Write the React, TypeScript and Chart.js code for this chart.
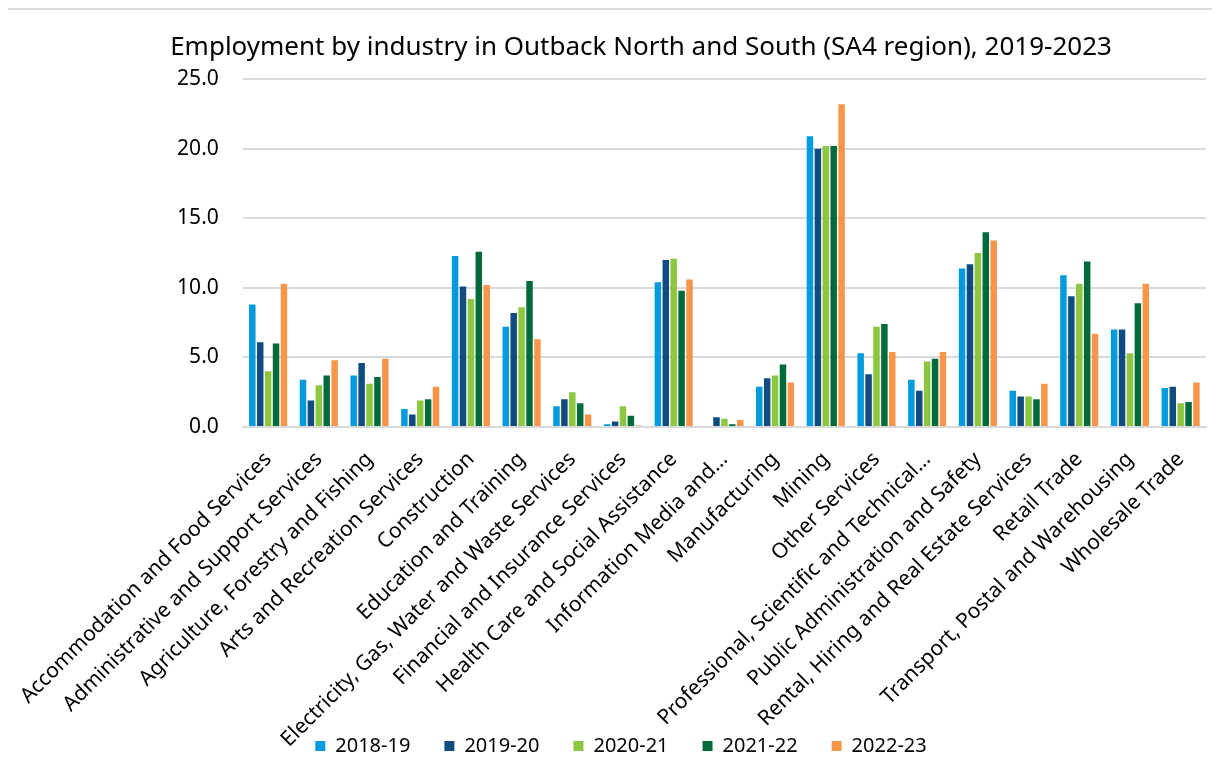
import React, { useEffect, useRef } from "react";
import { Chart, registerables } from "chart.js";

Chart.register(...registerables);

const categories = [
  "Accommodation and Food Services",
  "Administrative and Support Services",
  "Agriculture, Forestry and Fishing",
  "Arts and Recreation Services",
  "Construction",
  "Education and Training",
  "Electricity, Gas, Water and Waste Services",
  "Financial and Insurance Services",
  "Health Care and Social Assistance",
  "Information Media and…",
  "Manufacturing",
  "Mining",
  "Other Services",
  "Professional, Scientific and Technical…",
  "Public Administration and Safety",
  "Rental, Hiring and Real Estate Services",
  "Retail Trade",
  "Transport, Postal and Warehousing",
  "Wholesale Trade",
];

const seriesNames = ["2018-19", "2019-20", "2020-21", "2021-22", "2022-23"];
const seriesColors = ["#009ADE", "#0E4C82", "#8DC63F", "#006B3A", "#F7964A"];

const values2018_19 = [8.8, 3.4, 3.7, 1.3, 12.3, 7.2, 1.5, 0.2, 10.4, 0.0, 2.9, 20.9, 5.3, 3.4, 11.4, 2.6, 10.9, 7.0, 2.8];
const values2019_20 = [6.1, 1.9, 4.6, 0.9, 10.1, 8.2, 2.0, 0.4, 12.0, 0.7, 3.5, 20.0, 3.8, 2.6, 11.7, 2.2, 9.4, 7.0, 2.9];
const values2020_21 = [4.0, 3.0, 3.1, 1.9, 9.2, 8.6, 2.5, 1.5, 12.1, 0.6, 3.7, 20.2, 7.2, 4.7, 12.5, 2.2, 10.3, 5.3, 1.7];
const values2021_22 = [6.0, 3.7, 3.6, 2.0, 12.6, 10.5, 1.7, 0.8, 9.8, 0.2, 4.5, 20.2, 7.4, 4.9, 14.0, 2.0, 11.9, 8.9, 1.8];
const values2022_23 = [10.3, 4.8, 4.9, 2.9, 10.2, 6.3, 0.9, 0.1, 10.6, 0.5, 3.2, 23.2, 5.4, 5.4, 13.4, 3.1, 6.7, 10.3, 3.2];

const seriesValues = [values2018_19, values2019_20, values2020_21, values2021_22, values2022_23];

const FONT = "'Noto Sans', sans-serif";

const legendShift = {
  id: "legendShift",
  afterLayout(chart: any) {
    if (chart.legend) {
      chart.legend.left -= 20;
      chart.legend.right -= 20;
    }
  },
};

export default function App() {
  const canvasRef = useRef<HTMLCanvasElement | null>(null);

  useEffect(() => {
    if (!canvasRef.current) return;
    const chart = new Chart(canvasRef.current, {
      type: "bar",
      data: {
        labels: categories,
        datasets: seriesNames.map((name, i) => ({
          label: name,
          data: seriesValues[i],
          backgroundColor: seriesColors[i],
          borderWidth: 0,
          categoryPercentage: 0.78,
          barPercentage: 0.82,
        })),
      },
      plugins: [legendShift],
      options: {
        animation: false,
        responsive: false,
        maintainAspectRatio: false,
        layout: { padding: { left: 68, right: 12, top: 4, bottom: -4 } },
        plugins: {
          title: {
            display: true,
            text: "Employment by industry in Outback North and South (SA4 region), 2019-2023",
            color: "#000",
            font: { family: FONT, size: 26, weight: "normal" },
            padding: { top: 18, bottom: 16 },
          },
          legend: {
            position: "bottom",
            labels: {
              color: "#000",
              font: { family: FONT, size: 20 },
              boxWidth: 10,
              boxHeight: 10,
              padding: 34,
            },
          },
          tooltip: { enabled: false },
        },
        scales: {
          x: {
            grid: { display: false },
            border: { display: true, color: "#d9d9d9", width: 2 },
            ticks: {
              color: "#000",
              font: { family: FONT, size: 21 },
              minRotation: 45,
              maxRotation: 45,
              autoSkip: false,
              padding: 12,
            },
            afterFit: (scale: any) => {
              scale.height = 275;
              scale._computeLabelArea = () => undefined;
            },
          },
          y: {
            min: 0,
            max: 25,
            grid: { color: "#d9d9d9", lineWidth: 2, drawTicks: false },
            border: { display: false },
            ticks: {
              stepSize: 5,
              color: "#000",
              font: { family: FONT, size: 21 },
              padding: 24,
              callback: (v: any) => Number(v).toFixed(1),
            },
          },
        },
      },
    });
    return () => chart.destroy();
  }, []);

  return (
    <div
      style={{
        marginLeft: -2,
        width: 1212,
        height: 754,
        borderTop: "2px solid #d9d9d9",
        borderLeft: "2px solid #d9d9d9",
        boxSizing: "border-box",
        overflow: "hidden",
      }}
    >
      <canvas ref={canvasRef} width={1210} height={752} style={{ display: "block" }} />
    </div>
  );
}
